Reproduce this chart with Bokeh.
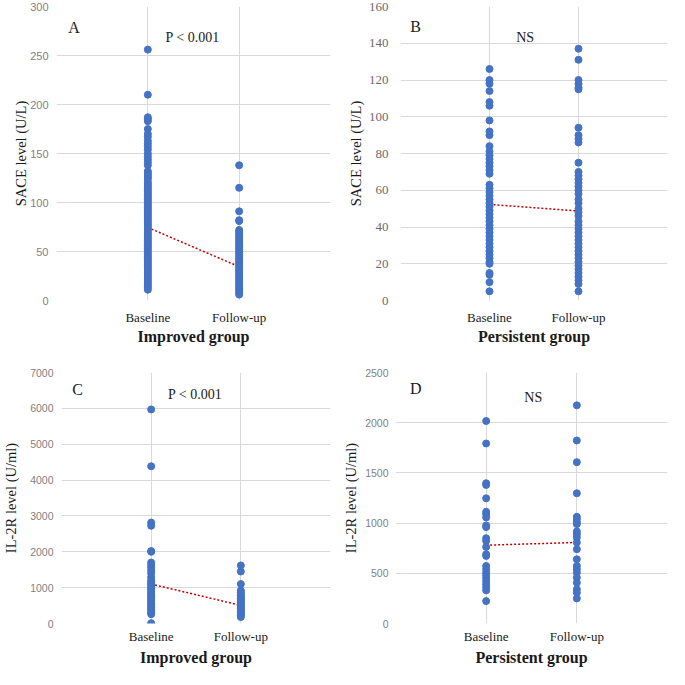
from bokeh.plotting import figure
from bokeh.models import Range1d, FixedTicker, Label
from bokeh.layouts import column, row
from bokeh.embed import file_html
from bokeh.resources import INLINE

categories = ["Baseline", "Follow-up"]
groups = ["Improved group", "Persistent group"]

# Panel A: SACE, improved group
A_base = [256, 210, 187, 185, 183, 175, 170, 167, 163, 160, 157, 154, 150, 147, 144, 141,
          138, 132, 130, 128, 126, 124, 121, 119, 117, 115, 113, 111, 109, 107, 105, 103,
          101, 99, 97, 95, 93, 91, 89, 87, 85, 83, 81, 79, 77, 75, 73, 71, 69, 67, 65, 63,
          61, 59, 57, 55, 53, 51, 49, 47, 45, 43, 41, 39, 37, 35, 33, 31, 29, 27, 25, 23,
          21, 19, 17, 15, 13, 11]
A_fu = [138, 115, 91, 82, 81, 72, 70, 68, 66, 64, 62, 60, 58, 56, 54, 52, 50, 48, 46, 44,
        42, 40, 38, 36, 34, 32, 30, 28, 26, 24, 22, 20, 18, 16, 14, 12, 10, 8, 6]
A_mean = [74.5, 34.5]

# Panel B: SACE, persistent group
B_base = [126, 120, 118, 114, 108, 106, 98, 92, 90, 84, 81, 79, 77, 75, 73, 71, 69, 63, 61,
          59, 57, 55, 53, 51, 49, 47, 45, 43, 41, 39, 37, 35, 33, 31, 29, 27, 25, 23, 21,
          20, 15, 14, 10, 5]
B_fu = [137, 131, 120, 118, 116, 115, 94, 90, 88, 86, 75, 70, 68, 66, 64, 62, 60, 58, 55,
        53, 50, 48, 46, 43, 41, 39, 37, 35, 33, 31, 29, 27, 25, 23, 21, 19, 17, 15, 13,
        11, 9, 5]
B_mean = [52.3, 48.7]

# Panel C: IL-2R, improved group
C_base = [5970, 4385, 2815, 2725, 2020, 2000, 1700, 1630, 1560, 1480, 1400, 1290, 1200,
          1150, 1100, 1050, 1000, 950, 900, 850, 800, 750, 700, 650, 600, 550, 500, 450,
          400, 350, 300, 260, 10]
C_fu = [1620, 1450, 1100, 920, 870, 820, 780, 740, 700, 660, 620, 580, 540, 500, 460, 420,
        380, 340, 300, 260, 220, 180]
C_mean = [1100, 505]

# Panel D: IL-2R, persistent group
D_base = [2017, 1793, 1397, 1380, 1247, 1113, 1090, 1057, 977, 960, 850, 823, 763, 690,
          673, 573, 540, 507, 480, 450, 420, 390, 360, 330, 223]
D_fu = [2173, 1823, 1607, 1297, 1063, 1040, 1010, 990, 917, 890, 857, 807, 740, 640, 573,
        540, 507, 457, 407, 340, 307, 250]
D_mean = [780, 807]

A_ticks = [0, 50, 100, 150, 200, 250, 300]
B_ticks = [0, 20, 40, 60, 80, 100, 120, 140, 160]
C_ticks = [0, 1000, 2000, 3000, 4000, 5000, 6000, 7000]
D_ticks = [0, 500, 1000, 1500, 2000, 2500]

DOT = "#4472C4"
GRID = "#D9D9D9"
SERIF = "Liberation Serif"
SANS = "Liberation Sans"
INK = "#1a1a1a"


def panel(base, fu, mean, yticks, ylabel, group, letter, letter_pos, note, note_pos,
          w, h, bl, br, bt, bb, tick_font, tick_size, tick_color, ytick_standoff,
          ylab_standoff, xtick_standoff, xlab_standoff):
    p = figure(width=w, height=h, output_backend="svg", toolbar_location=None,
               x_range=Range1d(0, 3), y_range=Range1d(yticks[0], yticks[-1]),
               min_border_left=bl, min_border_right=br, min_border_top=bt,
               min_border_bottom=bb)
    p.outline_line_color = None
    p.background_fill_color = "white"
    p.border_fill_color = "white"

    p.xgrid.ticker = FixedTicker(ticks=[0, 1, 2, 3])
    p.ygrid.ticker = FixedTicker(ticks=yticks)
    p.xgrid.grid_line_color = GRID
    p.ygrid.grid_line_color = GRID

    p.xaxis.ticker = FixedTicker(ticks=[1, 2])
    p.xaxis.major_label_overrides = {1: categories[0], 2: categories[1]}
    p.xaxis.axis_line_color = None
    p.xaxis.major_tick_line_color = None
    p.xaxis.minor_tick_line_color = None
    p.xaxis.major_tick_out = 0
    p.xaxis.major_tick_in = 0
    p.xaxis.minor_tick_out = 0
    p.xaxis.major_label_text_font = SERIF
    p.xaxis.major_label_text_font_size = "13px"
    p.xaxis.major_label_text_color = INK
    p.xaxis.major_label_standoff = xtick_standoff
    p.xaxis.axis_label = group
    p.xaxis.axis_label_text_font = SERIF
    p.xaxis.axis_label_text_font_style = "bold"
    p.xaxis.axis_label_text_font_size = "16px"
    p.xaxis.axis_label_text_color = INK
    p.xaxis.axis_label_standoff = xlab_standoff

    p.yaxis.ticker = FixedTicker(ticks=yticks)
    p.yaxis.axis_line_color = None
    p.yaxis.major_tick_line_color = None
    p.yaxis.minor_tick_line_color = None
    p.yaxis.major_tick_out = 0
    p.yaxis.major_tick_in = 0
    p.yaxis.minor_tick_out = 0
    p.yaxis.major_label_text_font = tick_font
    p.yaxis.major_label_text_font_size = tick_size
    p.yaxis.major_label_text_color = tick_color
    p.yaxis.major_label_standoff = ytick_standoff
    p.yaxis.axis_label = ylabel
    p.yaxis.axis_label_text_font = SERIF
    p.yaxis.axis_label_text_font_style = "normal"
    p.yaxis.axis_label_text_font_size = "14.5px"
    p.yaxis.axis_label_text_color = INK
    p.yaxis.axis_label_standoff = ylab_standoff

    p.line([1, 2], mean, line_color="#C00000", line_width=1.5, line_dash="2 2")
    p.scatter([1] * len(base), base, size=7, fill_color=DOT, line_color=DOT)
    p.scatter([2] * len(fu), fu, size=7, fill_color=DOT, line_color=DOT)

    p.add_layout(Label(x=letter_pos[0], y=letter_pos[1], text=letter, text_font=SERIF,
                       text_font_size="16px", text_color=INK,
                       text_align="left", text_baseline="top"))
    p.add_layout(Label(x=note_pos[0], y=note_pos[1], text=note, text_font=SERIF,
                       text_font_size="14px", text_color=INK,
                       text_align="center", text_baseline="middle"))
    return p


pA = panel(A_base, A_fu, A_mean, A_ticks, "SACE level (U/L)", groups[0], "A", (0.13, 287),
           "P < 0.001", (1.49, 268), 336, 347, 56, 6, 6, 47,
           SANS, "11px", "#7F7F7F", 8, -2, 9, 0)
pB = panel(B_base, B_fu, B_mean, B_ticks, "SACE level (U/L)", groups[1], "B", (0.11, 153.5),
           "NS", (1.40, 143), 333, 347, 64, 2, 6, 47,
           SERIF, "13px", "#6b6b6b", 12, 2, 9, 0)
pC = panel(C_base, C_fu, C_mean, C_ticks, "IL-2R level (U/ml)", groups[0], "C", (0.12, 6760),
           "P < 0.001", (1.49, 6400), 336, 322, 57, 6, 25, 46,
           SANS, "10.5px", "#7F7F7F", 8, 8, 5, 2)
pD = panel(D_base, D_fu, D_mean, D_ticks, "IL-2R level (U/ml)", groups[1], "D", (0.16, 2425),
           "NS", (1.52, 2250), 333, 322, 59, 2, 25, 46,
           SANS, "10.5px", "#7F7F7F", 7, 3, 5, 2)

layout = column(row(pA, pB, spacing=0), row(pC, pD, spacing=0), spacing=0)

open("out.html", "w").write(file_html(layout, INLINE))
